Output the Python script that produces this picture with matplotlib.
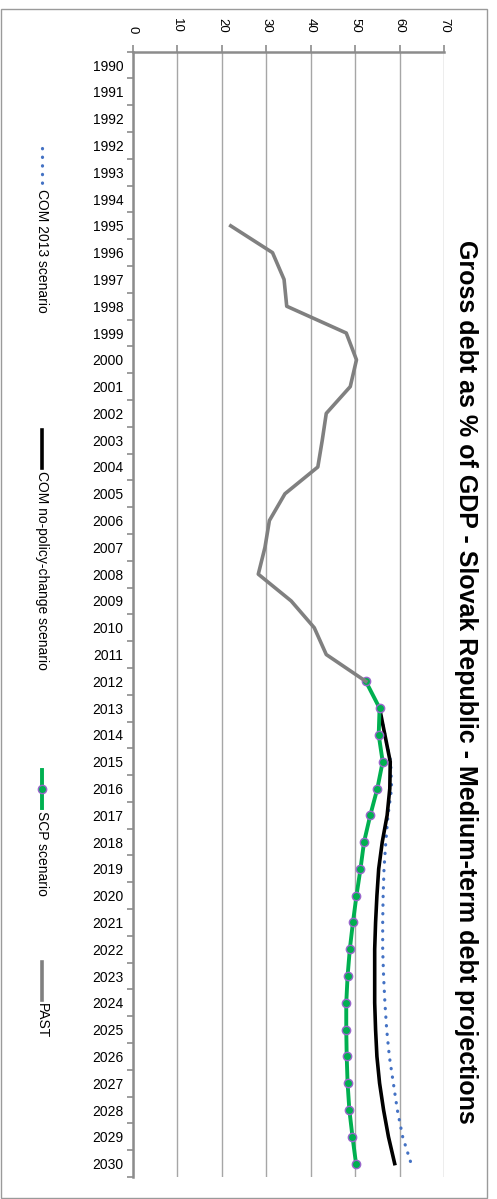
import matplotlib
matplotlib.use('Agg')
import matplotlib.pyplot as plt
import numpy as np
from matplotlib.lines import Line2D
from matplotlib.patches import Rectangle

plt.rcParams['font.family'] = ['Liberation Sans', 'DejaVu Sans']

# category labels (the source repeats 1992)
years = ['1990', '1991', '1992', '1992'] + [str(y) for y in range(1993, 2031)]

# index of first value of each series in the category list
past_start = 6    # 1995
scp_start = 23    # 2012
com_start = 24    # 2013

past = [22.0, 31.4, 34.0, 34.6, 48.0, 50.3, 48.9, 43.5, 42.6, 41.6,
        34.2, 30.7, 29.7, 28.2, 35.6, 40.8, 43.5, 52.4]
scp = [52.4, 55.5, 55.3, 56.2, 55.0, 53.4, 52.0, 51.2, 50.3, 49.5,
       48.8, 48.3, 48.0, 48.0, 48.1, 48.3, 48.7, 49.4, 50.2]
com_npc = [55.5, 56.7, 57.9, 57.8, 57.2, 56.1, 55.3, 54.9, 54.6, 54.4,
           54.4, 54.4, 54.6, 54.9, 55.5, 56.4, 57.5, 58.9]
com_2013 = [55.5, 56.7, 58.0, 58.2, 57.4, 56.9, 56.5, 56.3, 56.2, 56.2,
            56.4, 56.7, 57.1, 57.7, 58.6, 59.5, 60.7, 62.6]

value_ticks = list(range(0, 71, 10))

W, H = 497, 1199

def fx(x):
    return x / W

def fy(y):
    return 1 - y / H

fig = plt.figure(figsize=(W / 100, H / 100), dpi=100)

# outer chart frame
fig.patches.append(Rectangle((fx(1), fy(1198)), fx(486), (1198 - 9) / H,
                             transform=fig.transFigure, fill=False,
                             edgecolor='#9a9a9a', lw=1))

ax = fig.add_axes([fx(133), fy(1177), fx(444) - fx(133), (1177 - 51.7) / H])
ax.set_xlim(0, 70)
ax.set_ylim(len(years) - 0.5, -0.5)

blue = '#4472C4'
# values on the horizontal axis, categories down the vertical axis
ax.plot(com_2013, np.arange(com_start, com_start + len(com_2013)),
        color=blue, lw=2.3, linestyle=(0, (0.1, 2.6)),
        dash_capstyle='round', zorder=2)
ax.plot(com_npc, np.arange(com_start, com_start + len(com_npc)),
        color='black', lw=2.6, solid_joinstyle='round', zorder=3)
ax.plot(scp, np.arange(scp_start, scp_start + len(scp)),
        color='#00B050', lw=2.8, marker='o', markersize=6,
        markerfacecolor='#00B050', markeredgecolor='#9966CC',
        markeredgewidth=1, zorder=4)
ax.plot(past, np.arange(past_start, past_start + len(past)),
        color='#808080', lw=2.6, solid_joinstyle='round', zorder=5)

# value axis on top, labels rotated
ax.xaxis.tick_top()
ax.set_xticks(value_ticks)
ax.set_xticklabels([str(v) for v in value_ticks], rotation=-90, fontsize=9.5)
ax.tick_params(axis='x', direction='out', length=5, width=1.2,
               color='#8c8c8c', pad=8.5)
ax.grid(axis='x', color='#a6a6a6', lw=1)
ax.set_axisbelow(True)

# category axis: ticks between categories, labels at centres
ax.set_yticks(np.arange(-0.5, len(years), 1))
ax.set_yticklabels([])
ax.set_yticks(np.arange(len(years)), minor=True)
ax.set_yticklabels(years, minor=True, fontsize=10)
ax.tick_params(axis='y', which='major', direction='out', length=4,
               width=1.2, color='#8c8c8c')
ax.tick_params(axis='y', which='minor', length=0, pad=7)

for s in ['right', 'bottom']:
    ax.spines[s].set_visible(False)
for s in ['left', 'top']:
    ax.spines[s].set_color('#8c8c8c')
    ax.spines[s].set_linewidth(1.8)

# title
fig.text(fx(466), fy(682),
         'Gross debt as % of GDP - Slovak Republic - Medium-term debt projections',
         rotation=-90, ha='center', va='center', fontsize=18, fontweight='bold')

# legend (rotated, drawn by hand)
lx = 41.7
entries = [
    ('COM 2013 scenario', 148, dict(color=blue, lw=2.3, linestyle=(0, (0.1, 2.6)),
                                    dash_capstyle='round')),
    ('COM no-policy-change scenario', 430, dict(color='black', lw=2.6)),
    ('SCP scenario', 770, dict(color='#00B050', lw=2.8)),
    ('PAST', 962, dict(color='#808080', lw=2.6)),
]
for label, y0, style in entries:
    fig.lines.append(Line2D([fx(lx), fx(lx)], [fy(y0), fy(y0 + 38)],
                            transform=fig.transFigure, **style))
    if label == 'SCP scenario':
        fig.lines.append(Line2D([fx(lx)], [fy(y0 + 19)], transform=fig.transFigure,
                                marker='o', markersize=6, markerfacecolor='#00B050',
                                markeredgecolor='#9966CC', markeredgewidth=1,
                                linestyle='none'))
    fig.text(fx(lx), fy(y0 + 41), label, rotation=-90, ha='center', va='top',
             fontsize=10)

fig.savefig('out.png', dpi=100)
